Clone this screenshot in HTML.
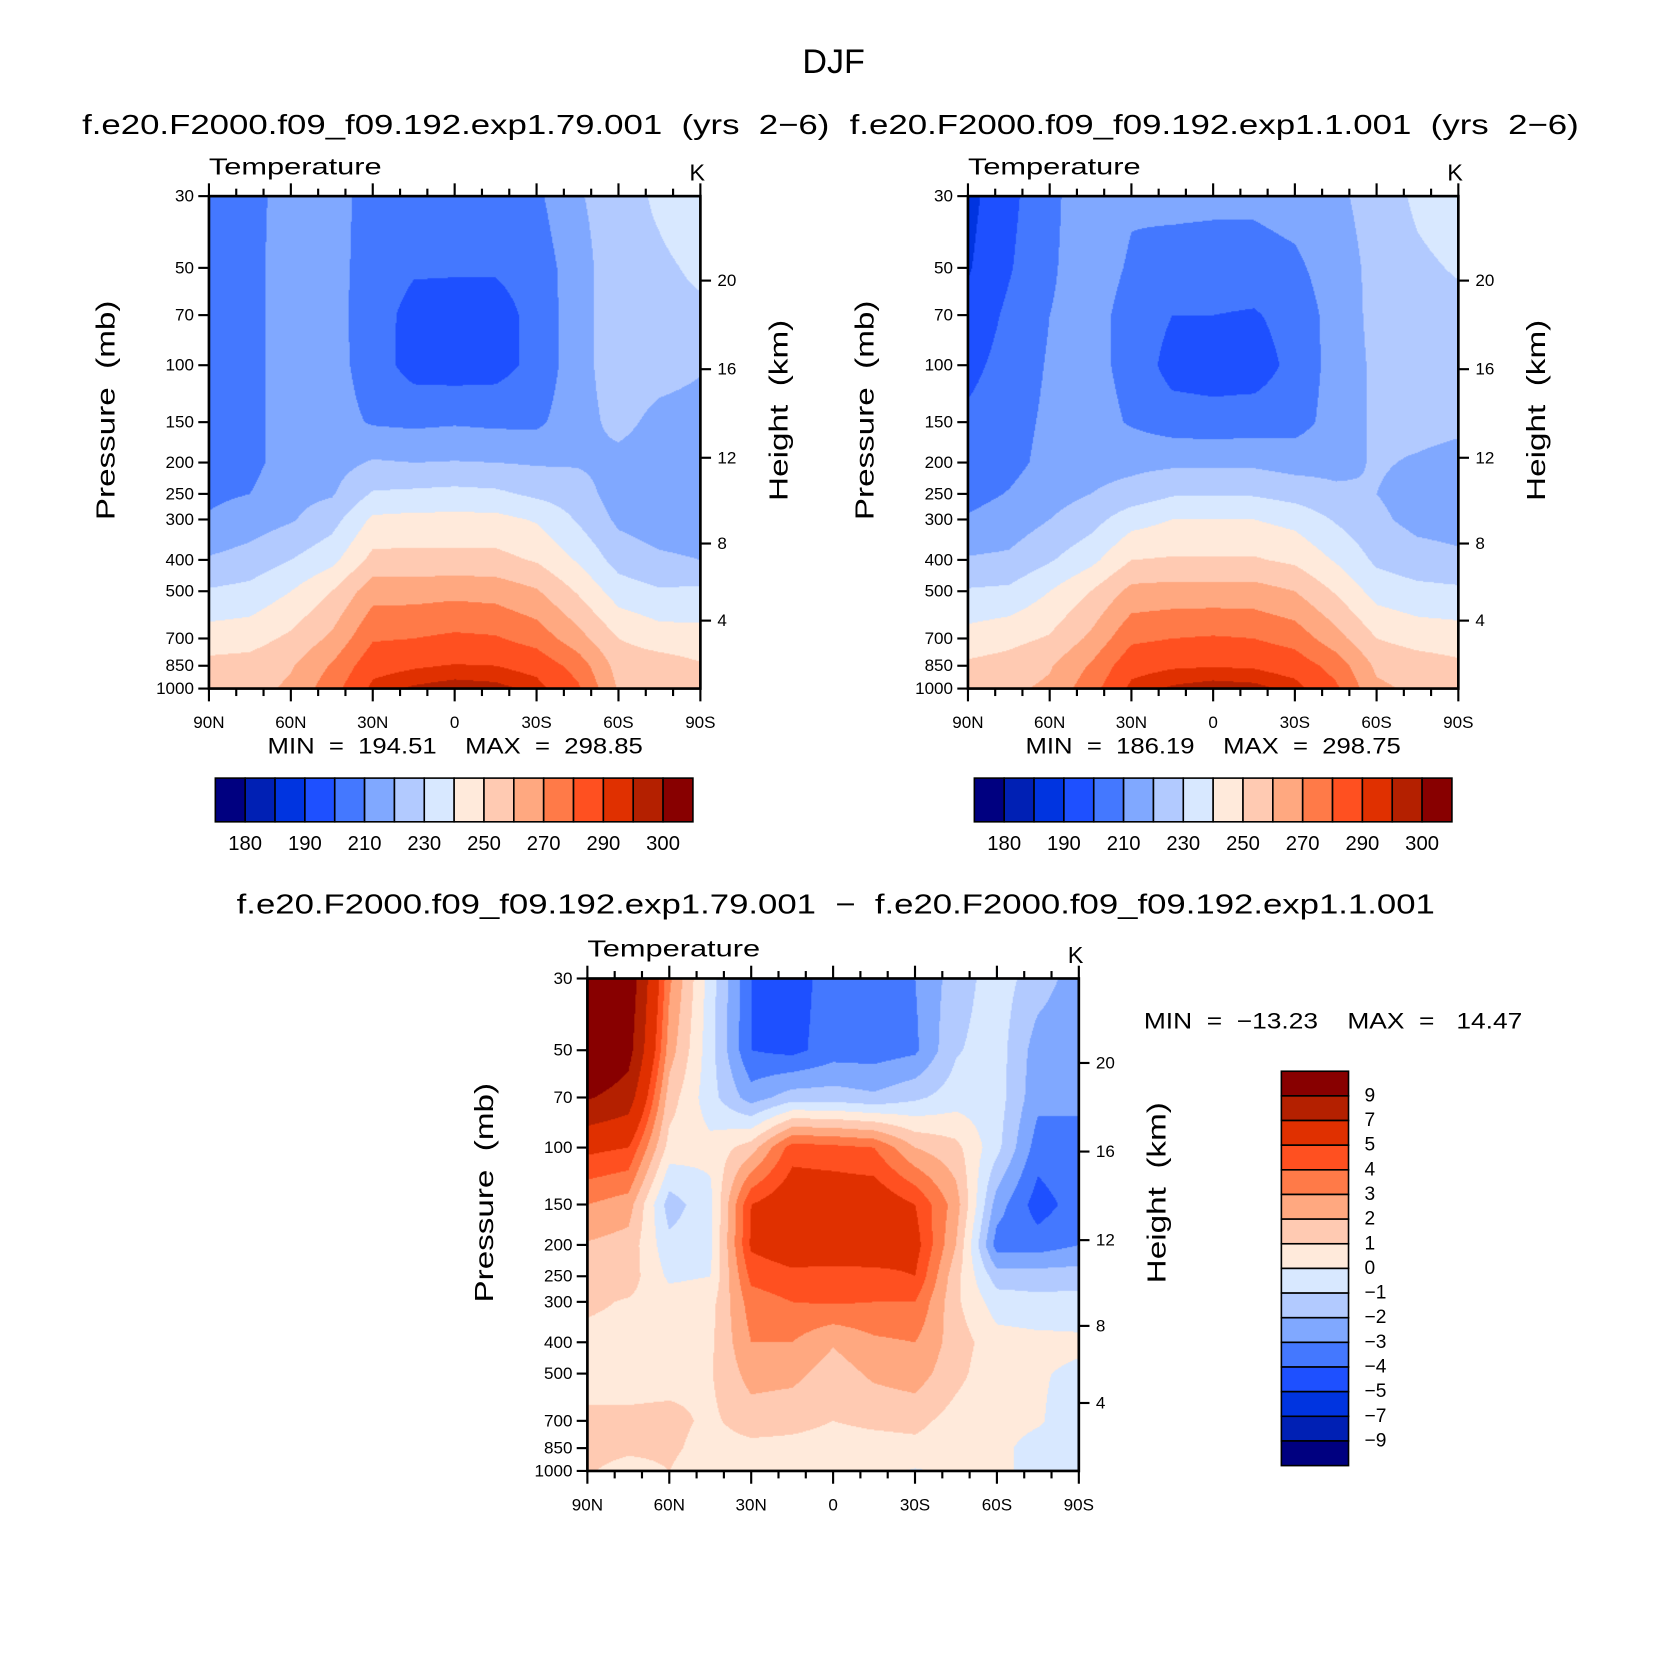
<!DOCTYPE html>
<html><head><meta charset="utf-8">
<style>
html,body{margin:0;padding:0;background:#fff;width:1663px;height:1666px;overflow:hidden}
#wrap{position:absolute;left:0;top:0;width:1560px;height:1563px;transform-origin:0 0;transform:scale(1.06603,1.06590)}
canvas{position:absolute}
svg{position:absolute;left:0;top:0}
text{font-family:"Liberation Sans",sans-serif;fill:#000;white-space:pre}
</style></head>
<body>
<div id="wrap">
<canvas id="c1" width="461" height="462" style="left:196px;top:184px"></canvas>
<canvas id="c2" width="460" height="462" style="left:908px;top:184px"></canvas>
<canvas id="c3" width="461" height="462" style="left:551px;top:918px"></canvas>
<svg id="ov" width="1560" height="1563" viewBox="0 0 1560 1563"></svg>
</div>
<script>
// ---- data ----
const P=[30,50,70,100,150,200,250,300,400,500,700,850,1000];
const LATS=[90,75,60,45,30,15,0,-15,-30,-45,-60,-75,-90];
const latTicks=[90,60,30,0,-30,-60,-90];
const latLabels=["90N","60N","30N","0","30S","60S","90S"];
const heightTicks=[4,8,12,16,20];
const tempLevels=[180,185,190,200,210,220,230,240,250,260,270,280,290,295,300];
const tempBarLabels=["180","190","210","230","250","270","290","300"];
const diffLevels=[-9,-7,-5,-4,-3,-2,-1,0,1,2,3,4,5,7,9];
const diffBarLabels=["9","7","5","4","3","2","1","0","\u22121","\u22122","\u22123","\u22124","\u22125","\u22127","\u22129"];
const colors=["#000080","#0020b4","#0034e0","#1e50ff","#4478ff","#80a8ff","#b2caff","#d8e8ff","#ffeadb","#ffcab2","#ffa880","#ff7a48","#ff5020","#e03000","#b42000","#880000"];
// rows = pressure levels, columns = latitudes 90N..90S
const temp1=[
[205,207,214,213,207,204,204,205,208,219,225,232,238],
[205,207,215,214,205,201,201,201,204,216,226,228,232],
[205,207,215,214,204,197,196,196,203,216,226,227,228],
[205,207,215,214,205,196,195,196,203,216,226,224,221],
[205,207,215,214,209,208,209,208,208,216,223,217,216],
[206,207,215,216,221,220,220.5,220,219,219,217,215,213],
[208,210,217,219,231,232,233,232,228,225,215,213,212],
[211,215,219,226,242,243,243,243,239,229,218,214,213],
[221,224,230,237,253,253,253,253,249,239,226,222,220],
[231,233,240,250,266,266,267,266,261,249,235,231,232],
[245,246,252,262,279,280,282,281,276,264,250,245,244],
[253,254,259,271,287,289,290.5,290,287,276,256,255,251],
[257,256,262,276,292,296,298,297,293,282,259,258,254]];
const temp2=[
[187,197,208,215,211,212,212,212,214,218,224,232,236],
[189,199,209,214,209,207,206,206,208,215,223,228,231],
[193,202,210,213,207,200,200,199,204,214,223,226,227],
[197,204,211,213,207,196,195,195,203,214,222,225,225],
[202,206,212,214,209,205,204,205,206,214,222,223,222],
[205,207,213,216,217,218,218,218,216,217,221,219,217],
[207,210.5,216,220,224,229,229.5,229,226,222,220,216,215],
[211,214,220,226,236,240,240,240,237,229,222,217,216],
[221,222,229,237,250,251,251,251,248,239,228,224,222],
[231,232,240,250,263,264,264,264,260,249,236,233,232],
[244,247,251,262,278,280,281,280,276,264,250,246,245],
[252,254,259,271,287,289,289.5,289,286,276,258,255,252],
[256,258,262,276,292,296,298,297,293,282,262,258,254]];
const tdiff=[
[13,10.5,3.2,-0.5,-4,-4.5,-3.5,-3.5,-3,-1.5,-0.5,-1.5,-2.5],
[12,9.8,2.5,-0.6,-4,-4.3,-3.5,-3.5,-3.2,-1.1,-0.5,-2.5,-2.8],
[9.2,8,1.5,-0.6,-2.5,-1.5,-1.5,-1.8,-1.2,-0.5,-0.5,-2.7,-3],
[5.3,5,0.6,0.3,1.5,4.5,4.3,4,2,1.3,-0.7,-3.5,-3],
[3,2.5,-1.5,-0.3,5,6,6,6,5,2.5,-2.5,-4.5,-3.5],
[1.9,1.6,-0.7,-0.3,5.2,5.8,6,6,5.5,2,-3.5,-3.5,-3],
[1.5,1.5,-0.2,0,4.3,4.7,4.5,4.6,5,1.3,-1.5,-1.5,-1.5],
[1.2,0.9,0.5,0.6,3.5,4,4.1,4,4,1.2,-0.5,-0.7,-0.6],
[0.7,0.6,0.6,0.8,3,3,2.1,2.8,3,1.5,0.4,0.3,0.2],
[0.6,0.6,0.6,0.9,2.4,2.3,1.5,2.2,2.5,1.3,0.3,0.1,-0.2],
[1.2,1.2,1.3,0.8,1.5,1.3,1,1.2,1.3,0.6,0.3,0.1,-0.5],
[1.4,1.2,1.2,0.6,0.7,0.7,0.6,0.6,0.7,0.4,0.2,-0.3,-0.6],
[1.1,0.6,1,0.3,0.3,0.4,0.4,0.3,-0.1,0.2,0.2,-0.3,-0.6]];

// ---- scales ----
const L=Math.log(1000/30);
function yOfP(p,y0,h){return y0+h*Math.log(p/30)/L;}
function xOfLat(lat,x0,w){return x0+w*(90-lat)/180;}
function pOfZ(zkm){const z=zkm*1000;return z<=11000?1013.25*Math.pow(1-2.25577e-5*z,5.25588):226.32*Math.exp(-(z-11000)/6341.6);}
function colorIdx(v,levels){let k=0;for(const l of levels){if(v>=l)k++;}return k;}

function drawContour(id,data,levels){
  const cv=document.getElementById(id),ctx=cv.getContext('2d');
  const w=cv.width,h=cv.height,img=ctx.createImageData(w,h);
  const rgb=colors.map(c=>[parseInt(c.slice(1,3),16),parseInt(c.slice(3,5),16),parseInt(c.slice(5,7),16)]);
  const lp=P.map(p=>Math.log(p));
  for(let py=0;py<h;py++){
    const p=30*Math.exp((py+0.5)/h*L),l=Math.log(p);
    let i=0;while(i<P.length-2&&l>lp[i+1])i++;
    const fy=Math.min(1,Math.max(0,(l-lp[i])/(lp[i+1]-lp[i])));
    for(let px=0;px<w;px++){
      const lat=90-180*(px+0.5)/w;
      let fx=(90-lat)/15;let j=Math.min(11,Math.floor(fx));fx-=j;
      const v=(data[i][j]*(1-fx)+data[i][j+1]*fx)*(1-fy)+(data[i+1][j]*(1-fx)+data[i+1][j+1]*fx)*fy;
      const c=rgb[colorIdx(v,levels)],o=(py*w+px)*4;
      img.data[o]=c[0];img.data[o+1]=c[1];img.data[o+2]=c[2];img.data[o+3]=255;
    }
  }
  ctx.putImageData(img,0,0);
}
drawContour('c1',temp1,tempLevels);
drawContour('c2',temp2,tempLevels);
drawContour('c3',tdiff,diffLevels);

// ---- overlay ----
const NS="http://www.w3.org/2000/svg";
const ov=document.getElementById('ov');
function mk(tag,attrs,parent){const e=document.createElementNS(NS,tag);for(const k in attrs)e.setAttribute(k,attrs[k]);(parent||ov).appendChild(e);return e;}
function txt(s,x,y,size,anchor,extra){const e=mk('text',Object.assign({x:x,y:y,'font-size':size,'text-anchor':anchor||'middle','dominant-baseline':'central'},extra||{}));e.setAttributeNS('http://www.w3.org/XML/1998/namespace','xml:space','preserve');e.textContent=s;return e;}

let t;
t=txt("DJF",782,58,32);



function axes(x0,y0,w,h,name){
  const g=mk('g',{});
  
  
  for(let lat=-90;lat<=90;lat+=10){
    const x=xOfLat(lat,x0,w),major=(lat%30===0),len=major?12:7;
    mk('line',{x1:x,x2:x,y1:y0,y2:y0-len,stroke:'#000','stroke-width':2},g);
    mk('line',{x1:x,x2:x,y1:y0+h,y2:y0+h+len,stroke:'#000','stroke-width':2},g);
  }
  latTicks.forEach((lat,i)=>{
    const e=txt(latLabels[i],xOfLat(lat,x0,w),y0+h+32,16);
    
    
    g.appendChild(e);
  });
  P.forEach(p=>{
    const y=yOfP(p,y0,h);
    mk('line',{x1:x0,x2:x0-10,y1:y,y2:y,stroke:'#000','stroke-width':2},g);
    const e=txt(String(p),x0-14,y,16,'end');
    
    
    g.appendChild(e);
  });
  heightTicks.forEach(z=>{
    const y=yOfP(pOfZ(z),y0,h);
    mk('line',{x1:x0+w,x2:x0+w+10,y1:y,y2:y,stroke:'#000','stroke-width':2},g);
    const e=txt(String(z),x0+w+16,y,16,'start');
    
    
    g.appendChild(e);
  });
  mk('rect',{x:x0,y:y0,width:w,height:h,fill:'none',stroke:'#000','stroke-width':2.5},g);
  let e=txt("Temperature",x0,y0-28,22,'start',{textLength:162,lengthAdjust:'spacingAndGlyphs'});
  
  
  g.appendChild(e);
  e=txt("K",x0+w-3,y0-22,22,'middle');
  
  
  g.appendChild(e);
  e=txt("Pressure  (mb)",0,0,24,'middle',{transform:`translate(${x0-96},${y0+h/2-30}) rotate(-90)`,textLength:206,lengthAdjust:'spacingAndGlyphs'});
  
  
  g.appendChild(e);
  e=txt("Height  (km)",0,0,24,'middle',{transform:`translate(${x0+w+74},${y0+h/2-30}) rotate(-90)`,textLength:170,lengthAdjust:'spacingAndGlyphs'});
  
  
  g.appendChild(e);
}
axes(196,184,461,462,'exp79');
axes(908,184,460,462,'exp1');
axes(551,918,461,462,'diff');

t=txt("f.e20.F2000.f09_f09.192.exp1.79.001  (yrs  2\u22126)",77,117,26,'start',{textLength:701,lengthAdjust:'spacingAndGlyphs'});


t=txt("f.e20.F2000.f09_f09.192.exp1.1.001  (yrs  2\u22126)",797,117,26,'start',{textLength:684,lengthAdjust:'spacingAndGlyphs'});


t=txt("f.e20.F2000.f09_f09.192.exp1.79.001  \u2212  f.e20.F2000.f09_f09.192.exp1.1.001",784,848,26,'middle',{textLength:1124,lengthAdjust:'spacingAndGlyphs'});


t=txt("MIN  =  194.51    MAX  =  298.85",427,700,21,'middle',{textLength:352,lengthAdjust:'spacingAndGlyphs'});


t=txt("MIN  =  186.19    MAX  =  298.75",1138,700,21,'middle',{textLength:352,lengthAdjust:'spacingAndGlyphs'});


t=txt("MIN  =  \u221213.23    MAX  =   14.47",1073,958,21,'start',{textLength:355,lengthAdjust:'spacingAndGlyphs'});



function hbar(x0,y0,name){
  const g=mk('g',{});
  
  
  const bw=28,bh=41;
  colors.forEach((c,i)=>{
    const r=mk('rect',{x:x0+i*bw,y:y0,width:bw,height:bh,fill:c,stroke:'#000','stroke-width':1.5},g);
    
    
  });
  tempBarLabels.forEach((s,i)=>{
    const e=txt(s,x0+(1+2*i)*bw,y0+bh+21,19);
    
    
    g.appendChild(e);
  });
}
hbar(202,730,'colorbar-exp79');
hbar(914,730,'colorbar-exp1');

(function(){
  const g=mk('g',{});
  
  
  const x0=1202,y0=1005,bw=63,bh=370/16;
  colors.slice().reverse().forEach((c,i)=>{
    const r=mk('rect',{x:x0,y:y0+i*bh,width:bw,height:bh,fill:c,stroke:'#000','stroke-width':1.5},g);
    
    
  });
  diffBarLabels.forEach((s,i)=>{
    const e=txt(s,x0+bw+15,y0+(i+1)*bh,18,'start');
    
    
    g.appendChild(e);
  });
})();
</script>
</body></html>
